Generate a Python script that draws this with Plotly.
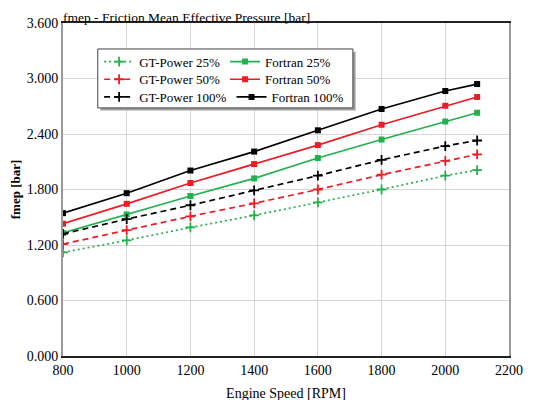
import plotly.graph_objects as go

rpm = [800, 1000, 1200, 1400, 1600, 1800, 2000, 2100]
gt25 = [1.12, 1.25, 1.39, 1.52, 1.66, 1.80, 1.95, 2.01]
gt50 = [1.21, 1.36, 1.51, 1.65, 1.80, 1.96, 2.11, 2.18]
gt100 = [1.32, 1.48, 1.63, 1.79, 1.95, 2.12, 2.27, 2.33]
f25 = [1.33, 1.53, 1.73, 1.92, 2.14, 2.34, 2.535, 2.63]
f50 = [1.43, 1.645, 1.87, 2.075, 2.28, 2.50, 2.705, 2.80]
f100 = [1.544, 1.76, 2.005, 2.21, 2.44, 2.67, 2.865, 2.94]

y_ticks = [0.0, 0.6, 1.2, 1.8, 2.4, 3.0, 3.6]
x_ticks = [800, 1000, 1200, 1400, 1600, 1800, 2000, 2200]

GREEN = "#22b14c"
RED = "#ed1c24"
BLACK = "#000000"
FONT = "Liberation Serif, Times New Roman, serif"

fig = go.Figure()


def gt(name, y, color, dash, legend):
    fig.add_trace(go.Scatter(
        x=rpm, y=y, name=name, mode="lines+markers",
        line=dict(color=color, width=1.7, dash=dash),
        marker=dict(symbol="cross-thin", size=7, line=dict(color=color, width=1.8)),
        legend=legend))


def ft(name, y, color, legend):
    fig.add_trace(go.Scatter(
        x=rpm, y=y, name=name, mode="lines+markers",
        line=dict(color=color, width=1.7),
        marker=dict(symbol="square", size=6, color=color),
        legend=legend))


gt("GT-Power 25%", gt25, GREEN, "2px,3px", "legend")
ft("Fortran 25%", f25, GREEN, "legend")
gt("GT-Power 50%", gt50, RED, "6px,4px", "legend2")
ft("Fortran 50%", f50, RED, "legend2")
gt("GT-Power 100%", gt100, BLACK, "6px,4px", "legend3")
ft("Fortran 100%", f100, BLACK, "legend3")

leg_common = dict(bgcolor="rgba(0,0,0,0)", borderwidth=0, orientation="h",
                  font=dict(family=FONT, size=13, color="#000"),
                  yanchor="top", xanchor="left", itemwidth=30,
                  traceorder="normal", x=0.081)

fig.update_layout(
    template="none",
    width=540, height=400,
    margin=dict(l=55, r=39, t=15, b=52),
    paper_bgcolor="white", plot_bgcolor="white",
    font=dict(family=FONT, size=14, color="#000"),
    title=dict(text="fmep - Friction Mean Effective Pressure [bar]",
               x=0, xref="paper", xanchor="left",
               y=1, yref="paper", yanchor="bottom",
               pad=dict(b=1, l=0), automargin=False,
               font=dict(family=FONT, size=13.5, color="#000")),
    legend=dict(y=0.929, **leg_common),
    legend2=dict(y=0.876, **leg_common),
    legend3=dict(y=0.823, **leg_common),
    showlegend=True,
)

fig.update_xaxes(
    range=[800, 2200], tickvals=x_ticks, ticktext=[str(v) for v in x_ticks],
    showgrid=True, gridcolor="#d6d6d6", gridwidth=1,
    showline=True, linecolor="#222", linewidth=1.5, mirror=True,
    ticks="", zeroline=False, automargin=False,
    tickfont=dict(family=FONT, size=14, color="#000"),
    title=dict(text="Engine Speed [RPM]", standoff=12,
               font=dict(family=FONT, size=14, color="#000")),
)
fig.update_yaxes(
    range=[0, 3.6], tickvals=y_ticks, ticktext=[f"{v:.3f}" for v in y_ticks],
    showgrid=True, gridcolor="#d6d6d6", gridwidth=1,
    showline=True, linecolor="#9a9a9a", linewidth=1.8, mirror=True,
    ticks="", zeroline=False, automargin=False,
    tickfont=dict(family=FONT, size=14, color="#000"),
    title=dict(text="<b>fmep [bar]</b>", standoff=6,
               font=dict(family=FONT, size=13, color="#000")),
)

# legend frame with shadow
bx0, bx1, by0, by1 = 0.078, 0.65, 0.745, 0.922
fig.add_shape(type="rect", xref="paper", yref="paper",
              x0=bx0 + 0.006, x1=bx1 + 0.006, y0=by0 - 0.008, y1=by1 - 0.008,
              fillcolor="#a0a0a0", line=dict(width=0), layer="above")
fig.add_shape(type="rect", xref="paper", yref="paper",
              x0=bx0, x1=bx1, y0=by0, y1=by1,
              fillcolor="white", line=dict(color="#444", width=1), layer="above")

fig.write_html("out.html")
